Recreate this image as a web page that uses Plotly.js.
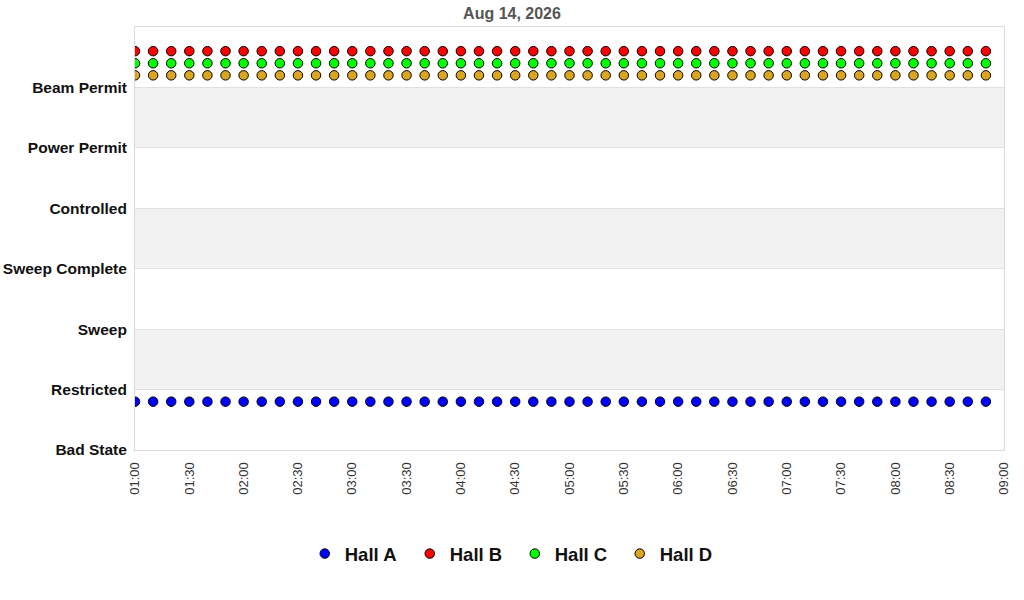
<!DOCTYPE html>
<html>
<head>
<meta charset="utf-8">
<script src="https://cdn.plot.ly/plotly-3.0.1.min.js"></script>
<style>html,body{margin:0;padding:0;background:#fff;}#chart{width:1024px;height:600px;}</style>
</head>
<body>
<div id="chart"></div>
<script>
var times = [
 '2026-08-14 01:00','2026-08-14 01:10','2026-08-14 01:20','2026-08-14 01:30','2026-08-14 01:40','2026-08-14 01:50',
 '2026-08-14 02:00','2026-08-14 02:10','2026-08-14 02:20','2026-08-14 02:30','2026-08-14 02:40','2026-08-14 02:50',
 '2026-08-14 03:00','2026-08-14 03:10','2026-08-14 03:20','2026-08-14 03:30','2026-08-14 03:40','2026-08-14 03:50',
 '2026-08-14 04:00','2026-08-14 04:10','2026-08-14 04:20','2026-08-14 04:30','2026-08-14 04:40','2026-08-14 04:50',
 '2026-08-14 05:00','2026-08-14 05:10','2026-08-14 05:20','2026-08-14 05:30','2026-08-14 05:40','2026-08-14 05:50',
 '2026-08-14 06:00','2026-08-14 06:10','2026-08-14 06:20','2026-08-14 06:30','2026-08-14 06:40','2026-08-14 06:50',
 '2026-08-14 07:00','2026-08-14 07:10','2026-08-14 07:20','2026-08-14 07:30','2026-08-14 07:40','2026-08-14 07:50',
 '2026-08-14 08:00','2026-08-14 08:10','2026-08-14 08:20','2026-08-14 08:30','2026-08-14 08:40','2026-08-14 08:50'
];
var hallA = [0.8,0.8,0.8,0.8,0.8,0.8,0.8,0.8,0.8,0.8,0.8,0.8,0.8,0.8,0.8,0.8,0.8,0.8,0.8,0.8,0.8,0.8,0.8,0.8,
             0.8,0.8,0.8,0.8,0.8,0.8,0.8,0.8,0.8,0.8,0.8,0.8,0.8,0.8,0.8,0.8,0.8,0.8,0.8,0.8,0.8,0.8,0.8,0.8];
var hallB = [6.6,6.6,6.6,6.6,6.6,6.6,6.6,6.6,6.6,6.6,6.6,6.6,6.6,6.6,6.6,6.6,6.6,6.6,6.6,6.6,6.6,6.6,6.6,6.6,
             6.6,6.6,6.6,6.6,6.6,6.6,6.6,6.6,6.6,6.6,6.6,6.6,6.6,6.6,6.6,6.6,6.6,6.6,6.6,6.6,6.6,6.6,6.6,6.6];
var hallC = [6.4,6.4,6.4,6.4,6.4,6.4,6.4,6.4,6.4,6.4,6.4,6.4,6.4,6.4,6.4,6.4,6.4,6.4,6.4,6.4,6.4,6.4,6.4,6.4,
             6.4,6.4,6.4,6.4,6.4,6.4,6.4,6.4,6.4,6.4,6.4,6.4,6.4,6.4,6.4,6.4,6.4,6.4,6.4,6.4,6.4,6.4,6.4,6.4];
var hallD = [6.2,6.2,6.2,6.2,6.2,6.2,6.2,6.2,6.2,6.2,6.2,6.2,6.2,6.2,6.2,6.2,6.2,6.2,6.2,6.2,6.2,6.2,6.2,6.2,
             6.2,6.2,6.2,6.2,6.2,6.2,6.2,6.2,6.2,6.2,6.2,6.2,6.2,6.2,6.2,6.2,6.2,6.2,6.2,6.2,6.2,6.2,6.2,6.2];
var stateLevels = [0,1,2,3,4,5,6];
var stateLabels = ['Bad State','Restricted','Sweep','Sweep Complete','Controlled','Power Permit','Beam Permit'];
var seriesNames = ['Hall A','Hall B','Hall C','Hall D'];
var seriesColors = ['#0000ff','#ff0000','#00ff00','#daa520'];
var seriesData = [hallA, hallB, hallC, hallD];

var traces = seriesData.map(function(vals, i){
  return {
    x: times, y: vals, name: seriesNames[i], type: 'scatter', mode: 'markers',
    marker: {size: 9.5, color: seriesColors[i], line: {color: '#000', width: 1}},
    cliponaxis: true
  };
});

var shapes = [1,3,5].map(function(v){
  return {type:'rect', xref:'paper', yref:'y', x0:0, x1:1, y0:v, y1:v+1,
          fillcolor:'#f2f2f2', line:{width:0}, layer:'below'};
});

var layout = {
  width: 1024, height: 600,
  margin: {l: 135, r: 20, t: 27, b: 150, autoexpand: false},
  paper_bgcolor: '#fff', plot_bgcolor: '#fff',
  font: {family: 'Liberation Sans, Arial, sans-serif'},
  title: {text: '<b>Aug 14, 2026</b>', x: 0.5, xref: 'container', xanchor: 'center',
          y: 0.978, yanchor: 'middle',
          font: {size: 16, color: '#555'}},
  showlegend: true,
  legend: {orientation: 'h', x: 0.437, xref: 'paper', xanchor: 'center', y: -0.246, yanchor: 'middle',
           font: {size: 18.5, color: '#111', weight: 'bold'}, entrywidth: 60},
  shapes: shapes,
  xaxis: {
    type: 'date', range: ['2026-08-14 01:00', '2026-08-14 09:00'],
    dtick: 1800000, tick0: '2026-08-14 01:00', tickformat: '%H:%M', tickangle: -90,
    showgrid: false, zeroline: false, showline: true, mirror: true, linecolor: '#d9d9d9', linewidth: 1,
    ticks: '', ticklabelstandoff: 6, automargin: false,
    tickfont: {size: 13, color: '#333'}
  },
  yaxis: {
    range: [0, 7], tickvals: stateLevels, ticktext: stateLabels,
    showgrid: true, gridcolor: '#e0e0e0', zeroline: false,
    showline: true, mirror: true, linecolor: '#d9d9d9', linewidth: 1,
    ticks: '', ticklabelstandoff: 4, automargin: false,
    tickfont: {size: 15.5, color: '#111', weight: 'bold'}
  }
};

Plotly.newPlot('chart', traces, layout, {displayModeBar: false, staticPlot: true});
</script>
</body>
</html>
